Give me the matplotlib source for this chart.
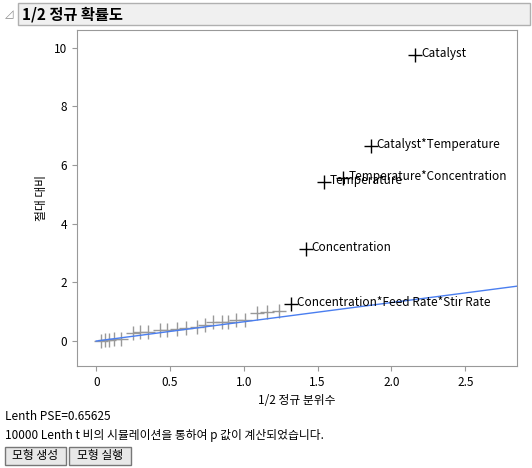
import matplotlib.pyplot as plt
from matplotlib.patches import Rectangle

plt.rcParams['font.family'] = ['Noto Sans CJK KR', 'DejaVu Sans']

# grey (unlabelled) effects
grey_x = [0.03, 0.06, 0.09, 0.12, 0.17, 0.25, 0.30, 0.35, 0.43, 0.48, 0.55, 0.61,
          0.68, 0.74, 0.79, 0.85, 0.89, 0.95, 1.01, 1.09, 1.16, 1.24]
grey_y = [0.0, 0.02, 0.03, 0.06, 0.08, 0.26, 0.32, 0.32, 0.38, 0.38, 0.40, 0.43,
          0.49, 0.55, 0.66, 0.66, 0.66, 0.72, 0.72, 0.94, 1.0, 1.03]
# labelled effects
lab_names = ["Concentration*Feed Rate*Stir Rate", "Concentration", "Temperature",
             "Temperature*Concentration", "Catalyst*Temperature", "Catalyst"]
lab_x = [1.32, 1.42, 1.54, 1.67, 1.86, 2.16]
lab_y = [1.26, 3.14, 5.43, 5.56, 6.65, 9.76]
pse = 0.65625

W, H = 532, 468
fig = plt.figure(figsize=(W / 100, H / 100), dpi=100)

def box(x0, y0, x1, y1):
    return [x0 / W, 1 - y1 / H, (x1 - x0) / W, (y1 - y0) / H]

# title bar
fig.patches.append(Rectangle((18 / W, 1 - 25 / H), (530 - 18) / W, 22 / H,
                             transform=fig.transFigure, facecolor='#f0f0f0',
                             edgecolor='#b0b0b0', lw=1))
fig.text(5 / W, 1 - 14 / H, '◿', fontsize=8, color='#888888', va='center')
fig.text(22 / W, 1 - 14 / H, '1/2 정규 확률도', fontsize=11, fontweight='bold', va='center')

ax = fig.add_axes(box(77, 30, 517, 366))
ax.plot([0, 2.85], [0, 2.85 * pse], color='#4a7ef0', lw=1)
ax.scatter(grey_x, grey_y, marker='+', s=100, color='#999999', linewidths=1)
ax.scatter(lab_x, lab_y, marker='+', s=100, color='black', linewidths=1)
for n, x, y in zip(lab_names, lab_x, lab_y):
    ax.text(x + 0.04, y + 0.05, n, fontsize=8.5, va='center')
ax.set_xlim(-0.13, 2.85)
ax.set_ylim(-0.85, 10.6)
ax.set_xticks([0, 0.5, 1, 1.5, 2, 2.5])
ax.set_xticklabels(['0', '0.5', '1.0', '1.5', '2.0', '2.5'])
ax.set_yticks([0, 2, 4, 6, 8, 10])
ax.tick_params(labelsize=8.5, color='#999999')
for s in ax.spines.values():
    s.set_color('#999999')
ax.set_xlabel('1/2 정규 분위수', fontsize=8.5)
ax.set_ylabel('절대 대비', fontsize=8.5)

fig.text(5 / W, 1 - 416 / H, 'Lenth PSE=0.65625', fontsize=8.5, va='center')
fig.text(5 / W, 1 - 436 / H, '10000 Lenth t 비의 시뮬레이션을 통하여 p 값이 계산되었습니다.',
         fontsize=8.5, va='center')
for x0, x1, t in [(5, 66, '모형 생성'), (69, 131, '모형 실행')]:
    fig.patches.append(Rectangle((x0 / W, 1 - 465 / H), (x1 - x0) / W, 18 / H,
                                 transform=fig.transFigure, facecolor='#e8e8e8',
                                 edgecolor='#777777', lw=1))
    fig.text((x0 + x1) / 2 / W, 1 - 456 / H, t, fontsize=8.5, ha='center', va='center')

fig.savefig('out.png', dpi=100)
